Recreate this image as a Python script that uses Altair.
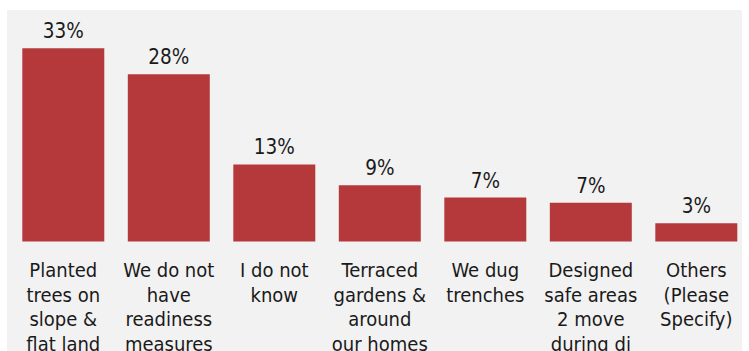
import altair as alt
import pandas as pd

categories = [
    "Planted\ntrees on\nslope &\nflat land",
    "We do not\nhave\nreadiness\nmeasures",
    "I do not\nknow",
    "Terraced\ngardens &\naround\nour homes",
    "We dug\ntrenches",
    "Designed\nsafe areas\n2 move\nduring di",
    "Others\n(Please\nSpecify)",
]
values = [32.6, 28.2, 13.0, 9.48, 7.4, 6.54, 3.07]
value_labels = ["33%", "28%", "13%", "9%", "7%", "7%", "3%"]

df = pd.DataFrame({"category": categories, "value": values, "label": value_labels})

FONT = "DejaVu Sans Condensed"
BAR = "#b5383b"
TXT = "#1a1a1a"

x = alt.X("category:N", sort=None, axis=None,
          scale=alt.Scale(paddingInner=0.223, paddingOuter=0.0948, align=0.765))
yscale = alt.Scale(domain=[-18.47, 39.04], zero=False, nice=False)

base = alt.Chart(df)

bars = base.mark_bar(color=BAR).encode(
    x=x,
    y=alt.Y("value:Q", scale=yscale, axis=None),
    y2=alt.datum(0),
)

pct = base.mark_text(font=FONT, fontSize=20.5, color=TXT, baseline="alphabetic",
                     align="center", dy=-10).encode(
    x=x,
    y=alt.Y("value:Q", scale=yscale, axis=None),
    text="label:N",
)

cats = base.mark_text(font=FONT, fontSize=20, color=TXT, baseline="alphabetic",
                      align="center", dy=35.8, lineBreak="\n", lineHeight=24.5).encode(
    x=x,
    y=alt.Y("zero:Q", scale=yscale, axis=None),
    text="category:N",
).transform_calculate(zero="0")

chart = alt.layer(bars, pct, cats).properties(
    width=735, height=341,
    padding={"left": 7, "top": 10, "right": 7, "bottom": 0},
    background="white",
).configure_view(fill="#f2f2f2", stroke=None)

chart.save("out.html", embed_options={"renderer": "svg", "actions": False})
